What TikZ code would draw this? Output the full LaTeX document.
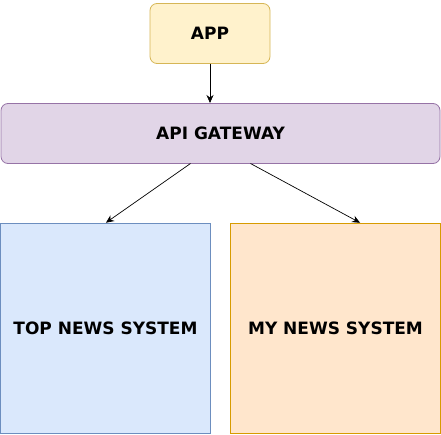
\documentclass[tikz,border=0pt]{standalone}
\usepackage{fontspec}
\setmainfont{DejaVu Sans}
\usetikzlibrary{arrows.meta}
\definecolor{appfill}{HTML}{FFF2CC}\definecolor{appdraw}{HTML}{D6B656}
\definecolor{gwfill}{HTML}{E1D5E7}\definecolor{gwdraw}{HTML}{9673A6}
\definecolor{topfill}{HTML}{DAE8FC}\definecolor{topdraw}{HTML}{6C8EBF}
\definecolor{myfill}{HTML}{FFE6CC}\definecolor{mydraw}{HTML}{D79B00}
\tikzset{
  box/.style={line width=0.8pt, inner sep=0pt, outer sep=0pt, font=\bfseries\fontsize{17}{20}\selectfont},
  rbox/.style={box, rounded corners=7pt},
  arr/.style={-{Stealth[length=8pt,width=7pt]}, line width=0.7pt, shorten >=0.5pt}
}
\begin{document}
\begin{tikzpicture}[x=1pt,y=-1pt]
\useasboundingbox (0,0) rectangle (441,434);
\node[rbox, fill=appfill, draw=appdraw, minimum width=120pt, minimum height=60pt] (app) at (210,33.5) {APP};
\node[rbox, fill=gwfill, draw=gwdraw, minimum width=439pt, minimum height=60pt] (gw) at (220.5,133.5) {API GATEWAY};
\node[box, fill=topfill, draw=topdraw, minimum width=210pt, minimum height=210pt] (top) at (105.5,328) {TOP NEWS SYSTEM};
\node[box, fill=myfill, draw=mydraw, minimum width=210pt, minimum height=210pt] (my) at (335.5,328) {MY NEWS SYSTEM};
\draw[arr] (app.south) -- (gw.north -| app.south);
\draw[arr] ([xshift=-30pt]gw.south) -- (top.north);
\draw[arr] ([xshift=30pt]gw.south) -- ([xshift=25pt]my.north);
\end{tikzpicture}
\end{document}
